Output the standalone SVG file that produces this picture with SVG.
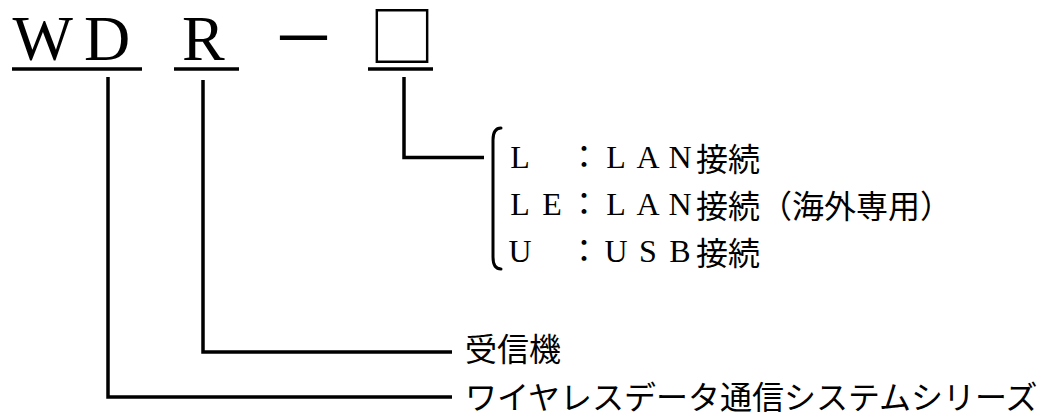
<svg xmlns="http://www.w3.org/2000/svg" width="1048" height="412" viewBox="0 0 1048 412">
<style>
.bg{fill:#fff}
.t{font-family:"Liberation Serif","Noto Sans CJK JP",serif;fill:#000}
.j{font-family:"Noto Sans CJK JP",sans-serif;fill:#000}
.title{font-size:64px}
.lbl{font-size:32px}
.ln{fill:none;stroke:#000;stroke-width:3.5;stroke-linecap:butt;stroke-linejoin:miter}
.br{fill:none;stroke:#000;stroke-width:3;stroke-linecap:round}
</style>
<rect class="bg" x="0" y="0" width="1048" height="412"/>
<g id="title">
<text class="t title" y="60"><tspan x="12.5">W</tspan><tspan x="84">D </tspan><tspan x="182">R </tspan><tspan class="j" x="271" y="62" font-size="65">－ </tspan><tspan class="j" x="369" y="60.5" font-size="66">□</tspan></text>
</g>
<g id="underlines">
<line class="ln" x1="12" y1="69" x2="142" y2="69"/>
<line class="ln" x1="174" y1="69" x2="239" y2="69"/>
<line class="ln" x1="368" y1="69" x2="433" y2="69"/>
</g>
<g id="connectors">
<polyline class="ln" points="404,77 404,157.5 484,157.5"/>
<polyline class="ln" points="203,80 203,352 452,352"/>
<polyline class="ln" points="108,77 108,397 452,397"/>
<path class="br" d="M501 128 C495.5 128 493 132 493 140 V257 C493 265 495.5 269 501 269"/>
</g>
<g id="opt-L">
<text class="t lbl" text-anchor="middle" x="520 552 584 616 648 680 712 744" y="168 168 168 168 168 168 171 171">L　：LAN接続</text>
</g>
<g id="opt-LE">
<text class="t lbl" text-anchor="middle" x="520 552 584 616 648 680 712 744 776 808 840 872 904 936" y="215 215 215 215 215 215 218 218 218 218 218 218 218 218">LE：LAN接続（海外専用）</text>
</g>
<g id="opt-U">
<text class="t lbl" text-anchor="middle" x="520 552 584 616 648 680 712 744" y="262 262 262 262 262 262 265 265">U　：USB接続</text>
</g>
<g id="receiver">
<text class="j lbl" x="465" y="361">受信機</text>
</g>
<g id="series">
<text class="j lbl" x="465" y="409">ワイヤレスデータ通信システムシリーズ</text>
</g>
</svg>
